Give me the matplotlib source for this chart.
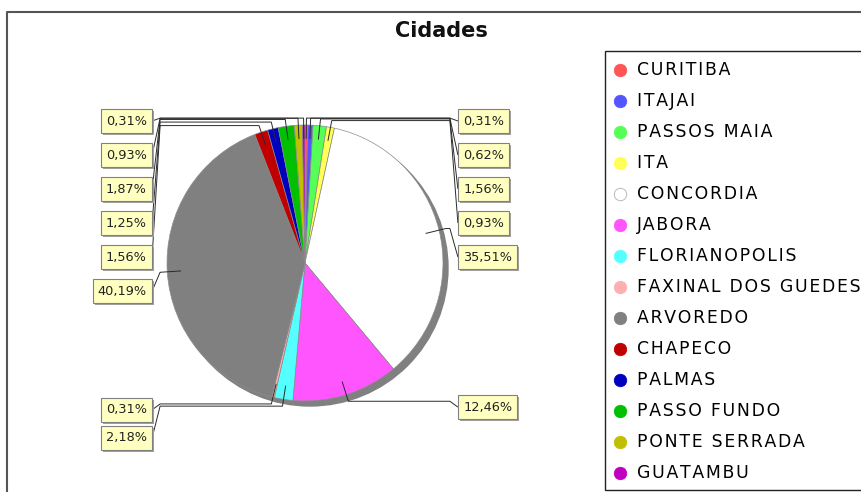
import numpy as np
import matplotlib
matplotlib.use('Agg')
import matplotlib.pyplot as plt
from matplotlib.patches import Circle, Rectangle

W, H = 862, 492

# slices in drawing order (clockwise from 12 o'clock)
cities = ['CURITIBA', 'ITAJAI', 'PASSOS MAIA', 'ITA', 'CONCORDIA', 'JABORA',
          'FLORIANOPOLIS', 'FAXINAL DOS GUEDES', 'ARVOREDO', 'CHAPECO',
          'PALMAS', 'PASSO FUNDO', 'PONTE SERRADA', 'GUATAMBU']
shares = [0.31, 0.62, 1.56, 0.93, 35.51, 12.46, 2.18, 0.31, 40.19, 1.56,
          1.25, 1.87, 0.93, 0.31]
colors = ['#FF5555', '#5555FF', '#55FF55', '#FFFF55', '#FFFFFF', '#FF55FF',
          '#55FFFF', '#FFAFAF', '#808080', '#C00000', '#0000C0', '#00C000',
          '#C0C000', '#C000C0']

fig = plt.figure(figsize=(W / 100, H / 100), dpi=100)
ax = fig.add_axes([0, 0, 1, 1])

cx, cy, R = 305, H - 263, 138

# shadow then pie
ax.add_patch(Circle((cx + 5, cy - 5), R, color='#808080', zorder=1))
ax.pie(shares, colors=colors, startangle=90, counterclock=False,
       center=(cx, cy), radius=R,
       wedgeprops=dict(edgecolor='#8c8c8c', linewidth=0.5, zorder=2))
ax.set_xlim(0, W)
ax.set_ylim(0, H)
ax.set_aspect('auto')
ax.axis('off')

frac = np.array(shares) / sum(shares)
mid = np.cumsum(frac) - frac / 2
theta = np.radians(90 - 360 * mid)

# label layout, loosely following the jfreechart approach
lab_r, link_r, gap_x = 151, 1.05 * R, 8
natural = cy + lab_r * np.sin(theta)
alloc = np.zeros(len(shares))
for side in (-1, 1):
    idx = [i for i in range(len(shares)) if np.sign(np.cos(theta[i])) == side]
    idx.sort(key=lambda i: -natural[i])
    prev = None
    for i in idx:
        if prev is None:
            alloc[i] = min(natural[i], H - 121)
        else:
            gap = 34 if natural[prev] > cy else 28
            alloc[i] = min(natural[i], alloc[prev] - gap)
        prev = i

pad = 0.4
fs = 9.3
pad_px = pad * fs * 100 / 72
labels = []
for i, v in enumerate(shares):
    c, s = np.cos(theta[i]), np.sin(theta[i])
    side = 1 if c > 0 else -1
    x0, y0 = cx + 0.9 * R * c, cy + 0.9 * R * s
    ex, ey = cx + link_r * c, cy + link_r * s
    ax_x = cx + side * link_r
    tx = ax_x + side * gap_x
    ax.plot([x0, ex, ax_x, tx], [y0, ey, ey, alloc[i]],
            color='#2a2a2a', lw=0.7, zorder=3, solid_capstyle='butt')
    txt = f'{v:.2f}%'.replace('.', ',')
    ha = 'left' if side > 0 else 'right'
    t = ax.text(tx + side * pad_px, alloc[i], txt, ha=ha, va='center',
                fontsize=fs, color='#222222', zorder=5,
                bbox=dict(boxstyle=f'square,pad={pad}', fc='#FFFFC0',
                          ec='#808080', lw=0.8))
    labels.append(t)

# drop shadows behind the label boxes
fig.canvas.draw()
inv = ax.transData.inverted()
for t in labels:
    bb = t.get_bbox_patch().get_window_extent()
    (x1, y1), (x2, y2) = inv.transform([[bb.x0, bb.y0], [bb.x1, bb.y1]])
    ax.add_patch(Rectangle((x1 + 2, y1 - 2), x2 - x1, y2 - y1,
                           fc='#a0a0a0', ec='none', zorder=4))

# title and outer frame
ax.text(441, H - 31, 'Cidades', ha='center', va='center', fontsize=15,
        fontweight='bold', color='#111111')
ax.plot([7, 7, W + 5], [-5, H - 12, H - 12], color='#555555', lw=1.5,
        zorder=6)

# legend
ax.add_patch(Rectangle((605, H - 490), 320, 439, fc='white', ec='#222222',
                       lw=1, zorder=6))
for i, name in enumerate(cities):
    y = H - (70 + 31 * i)
    ec = '#b0b0b0' if colors[i] == '#FFFFFF' else colors[i]
    ax.scatter([620], [y], s=80, c=[colors[i]], edgecolors=[ec],
               linewidths=0.6, zorder=7)
    ax.text(637, y, '\u200a'.join(name), ha='left', va='center',
            fontsize=12.4, color='#000000', zorder=7)

fig.savefig('out.png', dpi=100)
